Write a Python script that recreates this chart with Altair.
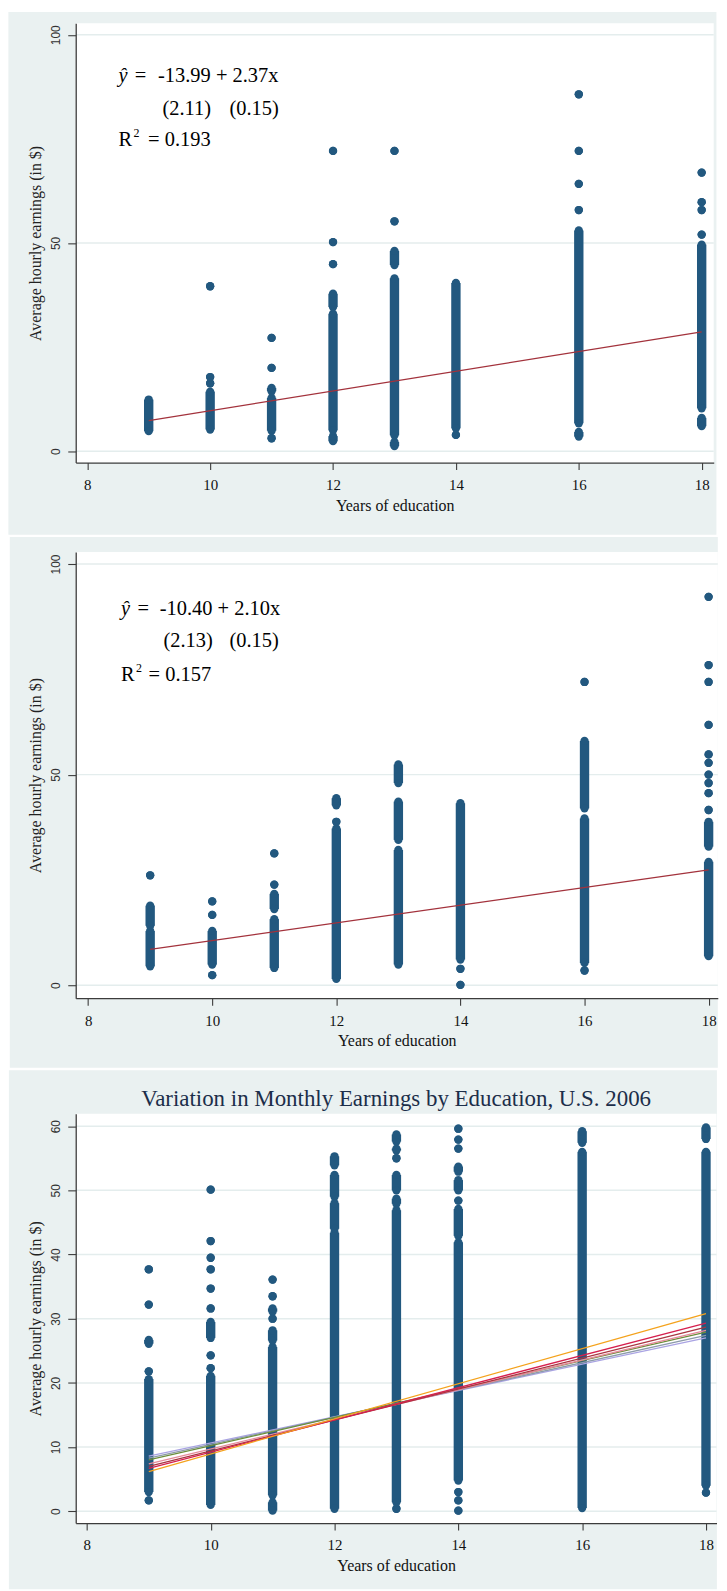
import altair as alt
import pandas as pd

# ---------------- data ----------------
X_TICKS = [8, 10, 12, 14, 16, 18]
X_TITLE = "Years of education"
Y_TITLE = "Average hourly earnings (in $)"

# Each column: list of (low, high) runs of overlapping dots; low == high is a single dot.
P1_Y_TICKS = [0, 50, 100]
P1_RUNS = {
    9: [(4.8, 12.4)],
    10: [(5.2, 14.3), (16.3, 16.3), (17.8, 17.8), (39.6, 39.6)],
    11: [(3.1, 3.1), (4.9, 12.8), (14.4, 15.2), (20.0, 20.0), (27.2, 27.2)],
    12: [(2.4, 3.6), (5.0, 33.0), (34.6, 37.8), (44.9, 44.9), (50.2, 50.2), (72.1, 72.1)],
    13: [(1.2, 2.2), (3.8, 41.5), (44.7, 48.1), (55.2, 55.2), (72.1, 72.1)],
    14: [(3.9, 3.9), (5.5, 40.4)],
    16: [(3.5, 4.6), (6.7, 53.0), (57.9, 57.9), (64.2, 64.2), (72.1, 72.1), (85.7, 85.7)],
    18: [(6.0, 8.0), (10.3, 49.6), (52.0, 52.0), (57.9, 57.9), (59.8, 59.8), (66.9, 66.9)],
}
P1_FIT_X = [9, 18]
P1_FIT_Y = [7.34, 28.67]
P1_TEXT = ["ŷ", "=", "-13.99 + 2.37x", "(2.11)", "(0.15)", "R", "2", "= 0.193"]

P2_Y_TICKS = [0, 50, 100]
P2_RUNS = {
    9: [(4.5, 12.9), (14.1, 18.9), (26.1, 26.1)],
    10: [(2.4, 2.4), (4.9, 12.9), (16.7, 16.7), (19.9, 19.9)],
    11: [(4.1, 15.7), (18.1, 21.7), (23.9, 23.9), (31.3, 31.3)],
    12: [(1.5, 37.2), (38.8, 38.8), (42.7, 44.4)],
    13: [(4.9, 32.1), (34.5, 43.6), (48.0, 52.4)],
    14: [(0.1, 0.1), (3.9, 3.9), (6.1, 43.2)],
    16: [(3.5, 3.5), (5.3, 39.6), (42.0, 58.0), (72.0, 72.0)],
    18: [(6.9, 29.3), (32.9, 38.8), (41.6, 41.6), (45.6, 45.6), (48.0, 48.0), (50.0, 50.0),
         (52.8, 52.8), (54.8, 54.8), (61.8, 61.8), (72.0, 72.0), (76.0, 76.0), (92.2, 92.2)],
}
P2_FIT_X = [9, 18]
P2_FIT_Y = [8.50, 27.40]
P2_TEXT = ["ŷ", "=", "-10.40 + 2.10x", "(2.13)", "(0.15)", "R", "2", "= 0.157"]

P3_TITLE = "Variation in Monthly Earnings by Education, U.S. 2006"
P3_Y_TICKS = [0, 10, 20, 30, 40, 50, 60]
P3_RUNS = {
    9: [(1.7, 1.7), (3.0, 20.6), (21.8, 21.8), (26.1, 26.7), (32.2, 32.2), (37.7, 37.7)],
    10: [(1.0, 21.1), (22.3, 22.3), (24.3, 24.3), (27.0, 29.5), (31.6, 31.6), (34.7, 34.7),
         (37.7, 37.7), (39.5, 39.5), (42.1, 42.1), (50.1, 50.1)],
    11: [(0.1, 1.4), (2.5, 25.6), (26.6, 28.2), (30.0, 30.0), (31.1, 31.6), (33.5, 33.5), (36.1, 36.1)],
    12: [(0.4, 43.4), (44.0, 48.0), (49.0, 52.4), (53.9, 55.3)],
    13: [(0.4, 0.4), (1.4, 46.9), (47.9, 48.7), (50.0, 52.4), (55.0, 55.0), (56.2, 56.5), (57.6, 58.7)],
    14: [(0.1, 0.1), (1.7, 1.7), (3.0, 3.0), (4.8, 41.9), (42.9, 47.1), (48.4, 48.4), (50.0, 51.6),
         (52.9, 53.7), (56.5, 56.5), (57.9, 57.9), (59.6, 59.6)],
    16: [(0.5, 56.0), (57.4, 59.2)],
    18: [(2.9, 2.9), (4.0, 56.0), (58.0, 59.8)],
}
P3_FIT_X = [9, 18]
P3_FIT_Y0 = [8.6, 8.3, 8.0, 7.4, 7.0, 6.7, 6.2]      # value at x = 9
P3_FIT_Y1 = [27.0, 27.4, 27.9, 28.2, 28.7, 29.3, 30.8]  # value at x = 18

# ---------------- styles ----------------
DOT = "#22587F"
BG = "#EAF1F1"
GRID = "#E4EDED"
AX = "#3C3C3C"
FIT = "#A3323C"
SERIF = "Liberation Serif"
SANS = "Liberation Sans"
DOT_D = 9.4
DOT_SIZE = 3.14159 * (DOT_D / 2) ** 2
P3_COLORS = ["#A9A3E3", "#8C9AAA", "#6B8E3A", "#E68A9B", "#A8343F", "#D6204E", "#F4A21C"]

ONE = pd.DataFrame({"k": [0]})


def text_layer(txt, x, y, size=20.5, italic=False, color="black", align="left", font=SERIF):
    kw = dict(text=txt, font=font, fontSize=size, align=align, baseline="alphabetic", color=color)
    if italic:
        kw["fontStyle"] = "italic"
    return alt.Chart(ONE).mark_text(**kw).encode(x=alt.value(x), y=alt.value(y))


def build_panel(runs, fits, y_ticks, x_dom, y_dom, W, H, ext):
    L, R, T, B = ext
    xs = alt.Scale(domain=x_dom, nice=False, zero=False)
    ys = alt.Scale(domain=y_dom, nice=False, zero=False)
    xax = alt.Axis(values=X_TICKS, grid=False, format="d", labelFlush=False, labelOverlap=False,
                   domainColor=AX, domainWidth=1.3, tickColor=AX, tickWidth=1.1, tickSize=7,
                   labelFont=SERIF, labelFontSize=15, labelColor="#111", labelBaseline="middle",
                   labelPadding=15, titleFont=SERIF, titleFontSize=16, titleFontWeight="normal",
                   titleColor="#111", titleY=43, titleBaseline="middle", zindex=1)
    yax = alt.Axis(values=y_ticks, grid=False, format="d", labelFlush=False, labelOverlap=False,
                   domainColor=AX, domainWidth=1.3, tickColor=AX, tickWidth=1.1, tickSize=8,
                   labelFont=SANS, labelFontSize=12, labelColor="#333", labelAngle=270,
                   labelAlign="center", labelBaseline="middle", labelPadding=12.5,
                   titleFont=SERIF, titleFontSize=16, titleFontWeight="normal", titleColor="#222",
                   titleAngle=270, titleX=-40.5, titleY=H / 2, titleAlign="center",
                   titleBaseline="middle", zindex=1)
    X = alt.X("x:Q", scale=xs, axis=xax, title=X_TITLE)
    Y = alt.Y("y:Q", scale=ys, axis=yax, title=Y_TITLE)

    layers = [
        alt.Chart(ONE).mark_rect(color=BG).encode(
            x=alt.value(-L), x2=alt.value(W + R), y=alt.value(-T), y2=alt.value(H + B)),
        alt.Chart(ONE).mark_rect(color="white").encode(
            x=alt.value(0), x2=alt.value(W), y=alt.value(0), y2=alt.value(H)),
        alt.Chart(pd.DataFrame({"y": y_ticks})).mark_rule(color=GRID, strokeWidth=1.5).encode(
            y=Y, x=alt.value(0), x2=alt.value(W)),
    ]
    rows = [(x, lo, hi) for x, lst in runs.items() for lo, hi in lst]
    run_df = pd.DataFrame(rows, columns=["x", "y", "y2"])
    end_df = pd.DataFrame([(x, v) for x, lo, hi in rows for v in (lo, hi)], columns=["x", "y"])
    layers.append(alt.Chart(run_df).mark_rule(color=DOT, strokeWidth=DOT_D, strokeCap="butt").encode(
        x=X, y=Y, y2="y2:Q"))
    layers.append(alt.Chart(end_df).mark_circle(color=DOT, size=DOT_SIZE, opacity=1).encode(x=X, y=Y))
    for color, xv, yv in fits:
        layers.append(alt.Chart(pd.DataFrame({"x": xv, "y": yv})).mark_line(
            color=color, strokeWidth=1.3).encode(x=X, y=Y))
    return layers


# Page: 727 wide, body margin 8 -> the chart is kept 711 wide so it is not shrunk.
# ---------- panel 1 ----------
W1, H1 = 640.7, 441.2
l1 = build_panel(P1_RUNS, [(FIT, P1_FIT_X, P1_FIT_Y)], P1_Y_TICKS, [7.812, 18.196],
                 [-2.75, 102.75], W1, H1, (67.6, 2.7, 11.3, 72.5))
l1 += [
    text_layer(P1_TEXT[0], 43.0, 58.5, italic=True),
    text_layer(P1_TEXT[1], 59.4, 58.5),
    text_layer(P1_TEXT[2], 82.7, 58.5),
    text_layer(P1_TEXT[3], 87.1, 92.0),
    text_layer(P1_TEXT[4], 154.4, 92.0),
    text_layer(P1_TEXT[5], 43.0, 123.5),
    text_layer(P1_TEXT[6], 58.0, 114.5, size=12),
    text_layer(P1_TEXT[7], 72.7, 123.5),
]
p1 = alt.layer(*l1).properties(width=W1, height=H1)

# ---------- panel 2 ----------
W2, H2 = 644.8, 448.0
l2 = build_panel(P2_RUNS, [(FIT, P2_FIT_X, P2_FIT_Y)], P2_Y_TICKS, [7.80, 18.148],
                 [-3.07, 102.84], W2, H2, (66.2, 0.0, 15.0, 70.0))
l2 += [
    text_layer(P2_TEXT[0], 45.4, 62.8, italic=True),
    text_layer(P2_TEXT[1], 62.1, 62.8),
    text_layer(P2_TEXT[2], 84.4, 62.8),
    text_layer(P2_TEXT[3], 88.1, 95.5),
    text_layer(P2_TEXT[4], 154.4, 95.5),
    text_layer(P2_TEXT[5], 45.4, 129.0),
    text_layer(P2_TEXT[6], 60.5, 120.0, size=12),
    text_layer(P2_TEXT[7], 73.2, 129.0),
]
p2 = alt.layer(*l2).properties(width=W2, height=H2)

# ---------- panel 3 ----------
W3, H3 = 643.5, 411.1
fits3 = [(c, P3_FIT_X, [a, b]) for c, a, b in zip(P3_COLORS, P3_FIT_Y0, P3_FIT_Y1)]
l3 = build_panel(P3_RUNS, fits3, P3_Y_TICKS, [7.82, 18.17], [-1.83, 61.94],
                 W3, H3, (67.1, 0.4, 43.5, 66.4))
l3.append(text_layer(P3_TITLE, W3 / 2, -7.8, size=23, color="#1C2E4A", align="center"))
p3 = alt.layer(*l3).properties(width=W3, height=H3)

chart = alt.vconcat(p1, p2, p3, spacing=2, padding=0, background="white").configure_view(stroke=None)

chart.save("out.html", embed_options={"renderer": "svg", "actions": False})
